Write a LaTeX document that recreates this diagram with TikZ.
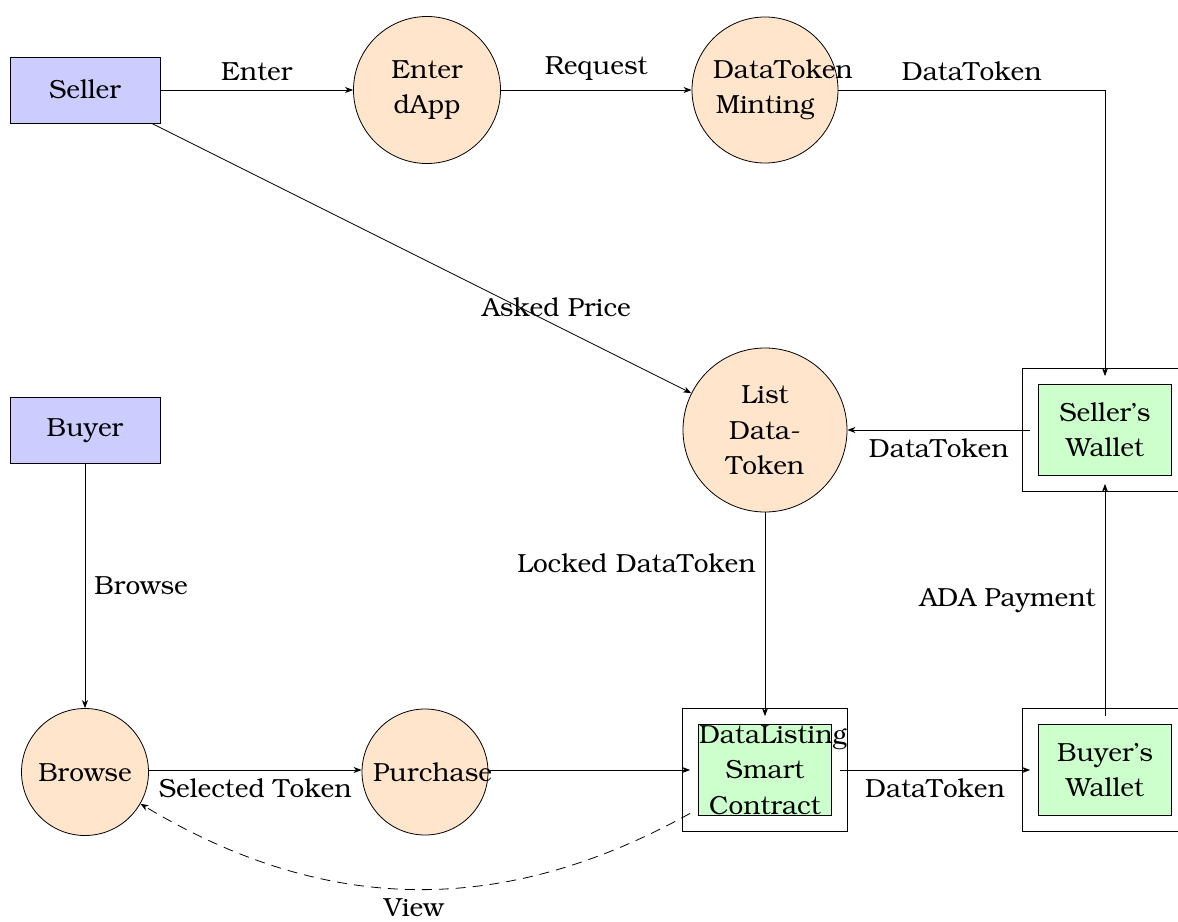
\documentclass[tikz,border=0pt]{standalone}
\usepackage[T1]{fontenc}
\usepackage{bookman}
\usetikzlibrary{arrows.meta}
\begin{document}
\begin{tikzpicture}[x=0.5pt,y=-0.5pt,
  every node/.style={font=\fontsize{13.1pt}{17.75pt}\selectfont},
  entity/.style={draw, fill=blue!20, minimum width=75pt, minimum height=33pt, inner sep=2pt},
  proc/.style={draw, circle, fill=orange!20, text width=52pt, align=center, inner sep=1pt},
  store/.style={draw, double, double distance=7.6pt, fill=green!20, text width=66pt, align=center, inner sep=4pt, minimum width=74.5pt, minimum height=53.5pt},
  arr/.style={-{Stealth[length=4pt,width=3pt,inset=1.2pt]}},
  lbl/.style={inner sep=4.5pt}
]
\useasboundingbox (0,0) rectangle (1178,921);

\node[entity] (seller) at (85,90) {Seller};
\node[entity] (buyer) at (85,430) {Buyer};

\node[proc, minimum size=73.5pt] (enter) at (427,90) {Enter\\dApp};
\node[proc, minimum size=73pt] (mint) at (765,90) {DataToken\\Minting};
\node[proc, minimum size=82pt] (list) at (765,430) {List\\Data-\\Token};
\node[proc, minimum size=63.5pt] (browse) at (85,772) {Browse};
\node[proc, minimum size=63pt] (purchase) at (425,772) {Purchase};

\node[store] (swallet) at (1105,430) {Seller's\\Wallet};
\node[store] (sc) at (765,770) {DataListing\\Smart\\Contract};
\node[store] (bwallet) at (1105,770) {Buyer's\\Wallet};

\draw[arr] (seller) -- node[lbl,above] {Enter} (enter);
\draw[arr] (enter) -- node[lbl,above] {Request} (mint);
\draw[arr] (mint) -| node[lbl,above,pos=0.25] {DataToken} (swallet);
\draw[arr] (seller) -- node[lbl,above,pos=0.75] {Asked Price} (list);
\draw[arr] (swallet) -- node[lbl,below] {DataToken} (list);
\draw[arr] (buyer) -- node[lbl,right] {Browse} (browse);
\draw[arr] (browse.east |- sc) -- node[lbl,below] {Selected Token} (purchase.west |- sc);
\draw[arr] (purchase.east |- sc) -- (sc);
\draw[arr] (list) -- node[lbl,left,pos=0.25] {Locked DataToken} (sc);
\draw[arr] (sc) -- node[lbl,below] {DataToken} (bwallet);
\draw[arr] (bwallet) -- node[lbl,left] {ADA Payment} (swallet);
\draw[arr, dash pattern=on 5pt off 3.5pt] (sc) to[bend left=30] node[lbl,below] {View} (browse);
\end{tikzpicture}
\end{document}
